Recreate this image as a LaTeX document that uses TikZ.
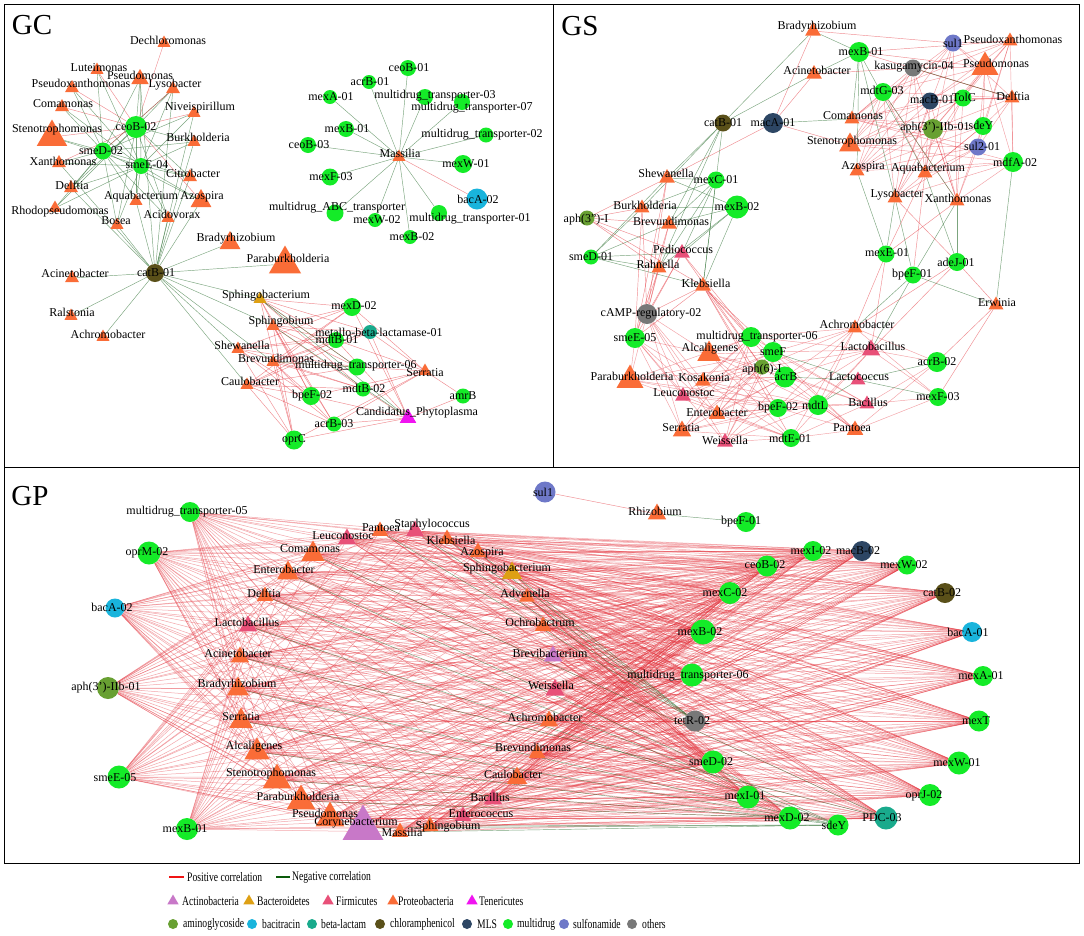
\documentclass[tikz,border=0pt]{standalone}
\usepackage{fontspec}
\setmainfont{Liberation Serif}
\usepackage{graphicx}
\usetikzlibrary{shapes.geometric}
\pgfdeclarelayer{bg}\pgfdeclarelayer{fg}\pgfsetlayers{bg,main,fg}
\definecolor{cPro}{RGB}{250,108,55}
\definecolor{cFir}{RGB}{232,80,120}
\definecolor{cAct}{RGB}{200,120,200}
\definecolor{cBac}{RGB}{222,160,20}
\definecolor{cTen}{RGB}{240,20,240}
\definecolor{cAmi}{RGB}{104,160,50}
\definecolor{cBcn}{RGB}{25,180,220}
\definecolor{cBeta}{RGB}{25,170,140}
\definecolor{cChl}{RGB}{90,80,25}
\definecolor{cMLS}{RGB}{45,70,100}
\definecolor{cMul}{RGB}{20,235,40}
\definecolor{cSul}{RGB}{110,120,200}
\definecolor{cOth}{RGB}{120,120,120}
\definecolor{ePos}{RGB}{228,45,55}
\definecolor{eNeg}{RGB}{35,105,40}
\definecolor{lPos}{RGB}{240,20,20}
\definecolor{lNeg}{RGB}{10,90,10}
\tikzset{
 lab/.style={font=\fontsize{12}{13}\selectfont, inner sep=0pt},
 ttl/.style={font=\fontsize{29}{30}\selectfont, inner sep=0pt},
 legt/.style={font=\fontsize{13}{14}\selectfont, inner sep=0pt, anchor=west},
 trib/.style={regular polygon, regular polygon sides=3, inner sep=0pt, minimum size=#1, draw=none},
 cirb/.style={circle, inner sep=0pt, minimum size=#1, draw=none},
 pro/.style={trib=#1, fill=cPro}, pro/.default=16,
 fir/.style={trib=#1, fill=cFir}, fir/.default=18,
 act/.style={trib=#1, fill=cAct}, act/.default=18,
 bac/.style={trib=#1, fill=cBac}, bac/.default=18,
 ten/.style={trib=#1, fill=cTen}, ten/.default=18,
 ami/.style={cirb=#1, fill=cAmi}, ami/.default=18,
 bcn/.style={cirb=#1, fill=cBcn}, bcn/.default=18,
 bet/.style={cirb=#1, fill=cBeta}, bet/.default=18,
 chl/.style={cirb=#1, fill=cChl}, chl/.default=18,
 mls/.style={cirb=#1, fill=cMLS}, mls/.default=18,
 mul/.style={cirb=#1, fill=cMul}, mul/.default=18,
 sul/.style={cirb=#1, fill=cSul}, sul/.default=18,
 oth/.style={cirb=#1, fill=cOth}, oth/.default=18,
 posE/.style={draw=ePos, line width=0.45pt, draw opacity=#1}, posE/.default=0.55,
 negE/.style={draw=eNeg, line width=0.45pt, draw opacity=#1}, negE/.default=0.6,
 gpE/.style={draw=ePos, line width=0.5pt, draw opacity=0.42},
}
\newcommand\gnode[5][0,0]{\node[#2] (#3) at (#4) {};\begin{pgfonlayer}{fg}\node[lab,shift={(#1)}] (#3-l) at (#4) {#5};\end{pgfonlayer}}
\newcommand\legtxt[1]{\scalebox{0.74}[1]{#1}}
\begin{document}
\begin{tikzpicture}[x=1pt,y=-1pt]
\useasboundingbox (0,0) rectangle (1084,935);
\begin{pgfonlayer}{bg}\fill[white] (0,0) rectangle (1084,935);\end{pgfonlayer}
\draw[line width=1pt] (4,4) rectangle (1079,863);
\draw[line width=1pt] (4,467) -- (1079,467);
\draw[line width=1pt] (553,4) -- (553,467);
\node[ttl] (tGC) at (32,25) {GC};
\node[ttl] (tGS) at (580,26) {GS};
\node[ttl] (tGP) at (30,496) {GP};
% ================= GC =================
\gnode[4,-3]{pro=15}{cDech}{164,43}{Dechloromonas}
\gnode[2,-2]{pro=15}{cLute}{97,70}{Luteimonas}
\gnode[0,-4]{pro=20}{cPseu}{140,79}{Pseudomonas}
\gnode[9,-5]{pro=16}{cPsxa}{72,88}{Pseudoxanthomonas}
\gnode[2,-4]{pro=16}{cLyso}{173,89}{Lysobacter}
\gnode[1,-3]{pro=16}{cComa}{62,107}{Comamonas}
\gnode[6,-5]{pro=15}{cNive}{194,113}{Niveispirillum}
\gnode[5,-7]{pro=35}{cSten}{52,137}{Stenotrophomonas}
\gnode{mul=22}{cceoB}{136,127}{ceoB-02}
\gnode[4,-5]{pro=15}{cBurk}{194,142}{Burkholderia}
\gnode[-2,0]{mul=17}{csmeD}{103,151}{smeD-02}
\gnode[4,-2]{pro=16}{cXant}{59,163}{Xanthomonas}
\gnode[6,-1]{mul=16}{csmeE}{141,166}{smeE-04}
\gnode[3,-4]{pro=16}{cCitr}{190,177}{Citrobacter}
\gnode[1,-3]{pro=16}{cDelf}{71,188}{Delftia}
\gnode[5,-4]{pro=15}{cAqua}{136,201}{Aquabacterium}
\gnode[1,-4]{pro=24}{cAzos}{201,201}{Azospira}
\gnode[5,4]{pro=15}{cRhod}{55,208}{Rhodopseudomonas}
\gnode[4,-4]{pro=15}{cAcid}{168,218}{Acidovorax}
\gnode[-1,-4]{pro=15}{cBose}{117,225}{Bosea}
\gnode[6,-4]{pro=24}{cBrad}{230,243}{Bradyrhizobium}
\gnode[1,0]{chl=18}{ccatB}{155,273}{catB-01}
\gnode[3,-5]{pro=16}{cAcin}{72,278}{Acinetobacter}
\gnode[3,-6]{pro=37}{cPara}{285,264}{Paraburkholderia}
\gnode[1,-4]{pro=15}{cRals}{71,316}{Ralstonia}
\gnode[5,-3]{pro=15}{cAchr}{103,337}{Achromobacter}
\gnode[6,-3]{bac=15}{cSphb}{260,299}{Sphingobacterium}
\gnode[8,-4]{pro=15}{cSphg}{273,326}{Sphingobium}
\gnode[4,-4]{pro=15}{cShew}{238,349}{Shewanella}
\gnode[3,-4]{pro=15}{cBrev}{273,362}{Brevundimonas}
\gnode[3,-4]{pro=15}{cCaul}{247,385}{Caulobacter}
\gnode[2,0]{mul=14}{cmexB2}{410,237}{mexB-02}
\gnode[2,-1]{mul=18}{cmexD}{352,307}{mexD-02}
\gnode[9,0]{bet=14}{cmetal}{370,332}{metallo-beta-lactamase-01}
\gnode[1,-1]{mul=16}{cmdtB1}{336,340}{mdtB-01}
\gnode[-1,-1]{mul=17}{cmdt06}{357,367}{multidrug\_transporter-06}
\gnode[0,2]{pro=15}{cSerr}{425,371}{Serratia}
\gnode[1,-1]{mul=15}{cmdtB2}{363,389}{mdtB-02}
\gnode[1,0]{mul=18}{cbpeF}{311,396}{bpeF-02}
\gnode{mul=15}{camrB}{463,396}{amrB}
\gnode[9,-5]{ten=19}{cCand}{408,418}{Candidatus\_Phytoplasma}
\gnode{mul=15}{cacrB3}{334,424}{acrB-03}
\gnode{mul=19}{coprC}{294,440}{oprC}
\gnode[1,-4]{pro=15}{cMass}{399,157}{Massilia}
\gnode[1,0]{mul=16}{cceoB1}{408,68}{ceoB-01}
\gnode[1,0]{mul=14}{cacrB1}{369,82}{acrB-01}
\gnode[1,0]{mul=14}{cmexA1}{330,97}{mexA-01}
\gnode[10,-1]{mul=16}{cmdt03}{425,97}{multidrug\_transporter-03}
\gnode[10,6]{mul=16}{cmdt07}{462,102}{multidrug\_transporter-07}
\gnode[1,0]{mul=16}{cmexB1}{346,129}{mexB-01}
\gnode[-4,0]{mul=15}{cmdt02}{486,135}{multidrug\_transporter-02}
\gnode[1,0]{mul=16}{cceoB3}{308,145}{ceoB-03}
\gnode[3,0]{mul=18}{cmexW1}{463,164}{mexW-01}
\gnode[1,0]{mul=17}{cmexF3}{330,177}{mexF-03}
\gnode[1,0]{bcn=21}{cbacA}{477,199}{bacA-02}
\gnode[2,-5]{mul=17}{cABC}{335,213}{multidrug\_ABC\_transporter}
\gnode[2,0]{mul=14}{cmexW2}{375,220}{mexW-02}
\gnode[31,6]{mul=16}{cmdt01}{439,213}{multidrug\_transporter-01}
% ================= GS =================
\gnode[4,-4]{pro=18}{sBrad}{813,31}{Bradyrhizobium}
\gnode[3,-4]{pro=18}{sAcin}{814,74}{Acinetobacter}
\gnode{chl=17}{scatB}{723,123}{catB-01}
\gnode{mls=20}{smacA}{773,123}{macA-01}
\gnode[2,-3]{pro=25}{sSten}{850,145}{Stenotrophomonas}
\gnode[-1,-5]{pro=18}{sShew}{667,178}{Shewanella}
\gnode{mul=17}{smexC1}{716,180}{mexC-01}
\gnode[3,-3]{pro=17}{sBurk}{642,208}{Burkholderia}
\gnode{mul=23}{smexB2}{737,207}{mexB-02}
\gnode[-1,2]{ami=15}{saph3I}{587,218}{aph(3'')-I}
\gnode[2,-3]{pro=18}{sBrev}{669,224}{Brevundimonas}
\gnode[1,-4]{fir=18}{sPedi}{682,253}{Pediococcus}
\gnode{mul=15}{ssmeD1}{591,257}{smeD-01}
\gnode[-1,-4]{pro=17}{sRahn}{659,268}{Rahnella}
\gnode[3,-3]{pro=18}{sKleb}{703,286}{Klebsiella}
\gnode[4,0]{oth=20}{scAMP}{647,314}{cAMP-regulatory-02}
\gnode{mul=20}{ssmeE5}{635,338}{smeE-05}
\gnode[6,0]{mul=20}{smdt06}{751,337}{multidrug\_transporter-06}
\gnode[1,-5]{pro=27}{sAlca}{709,354}{Alcaligenes}
\gnode{mul=20}{ssmeF}{773,352}{smeF}
\gnode[0,3]{ami=15}{saph6}{762,367}{aph(6)-I}
\gnode[1,0]{mul=21}{sacrB}{785,377}{acrB}
\gnode[2,-4]{pro=31}{sPara}{630,380}{Paraburkholderia}
\gnode[1,-4]{pro=18}{sKosa}{703,381}{Kosakonia}
\gnode[1,-3]{fir=18}{sLeuc}{683,396}{Leuconostoc}
\gnode[0,-2]{pro=19}{sEnte}{717,414}{Enterobacter}
\gnode{mul=18}{sbpeF2}{778,408}{bpeF-02}
\gnode[-3,0]{mul=20}{smdtL}{818,405}{mdtL}
\gnode[-1,-3]{pro=21}{sSerr}{682,431}{Serratia}
\gnode[0,-2]{fir=18}{sWeis}{725,442}{Weissella}
\gnode[-1,0]{mul=18}{smdtE}{791,438}{mdtE-01}
\gnode[2,0]{mul=20}{smexB1}{859,52}{mexB-01}
\gnode{sul=17}{ssul1}{953,43}{sul1}
\gnode[3,-2]{pro=17}{sPsxa}{1010,41}{Pseudoxanthomonas}
\gnode[1,-1]{oth=17}{skasu}{913,68}{kasugamycin-04}
\gnode[11,-4]{pro=31}{sPseu}{985,67}{Pseudomonas}
\gnode[-1,-2]{mul=18}{smdtG}{883,92}{mdtG-03}
\gnode[2,-1]{mls=17}{smacB1}{930,101}{macB-01}
\gnode[1,-1]{mul=17}{sTolC}{963,98}{TolC}
\gnode[1,-2]{pro=17}{sDelf}{1012,98}{Delftia}
\gnode[1,-3]{pro=17}{sComa}{852,119}{Comamonas}
\gnode[2,-1]{ami=20}{saph3}{933,129}{aph(3')-IIb-01}
\gnode[-2,-1]{mul=18}{ssdeY}{983,126}{sdeY}
\gnode[4,-1]{sul=17}{ssul2}{978,147}{sul2-01}
\gnode[6,-4]{pro=17}{sAzos}{857,171}{Azospira}
\gnode[3,-4]{pro=17}{sAqua}{925,173}{Aquabacterium}
\gnode[2,0]{mul=20}{smdfA}{1013,162}{mdfA-02}
\gnode[2,-3]{pro=17}{sLyso}{895,198}{Lysobacter}
\gnode[1,-3]{pro=17}{sXant}{957,201}{Xanthomonas}
\gnode[1,-1]{mul=17}{smexE1}{886,254}{mexE-01}
\gnode[-1,0]{mul=18}{sadeJ}{957,262}{adeJ-01}
\gnode[-1,0]{mul=17}{sbpeF1}{913,275}{bpeF-01}
\gnode[1,-2]{pro=17}{sErwi}{996,305}{Erwinia}
\gnode[2,-4]{pro=17}{sAchr}{855,328}{Achromobacter}
\gnode[2,-4]{fir=21}{sLact}{871,350}{Lactobacillus}
\gnode{mul=20}{sacrB2}{937,362}{acrB-02}
\gnode[1,-3]{fir=17}{sLacc}{858,380}{Lactococcus}
\gnode{mul=18}{smexF3}{938,397}{mexF-03}
\gnode[1,-2]{fir=17}{sBaci}{867,404}{Bacillus}
\gnode[-3,-2]{pro=19}{sPant}{855,430}{Pantoea}
% ================= GP =================
\gnode[-3,0]{mul=20}{pmdt05}{190,512}{multidrug\_transporter-05}
\gnode[-2,0]{mul=23}{poprM}{149,553}{oprM-02}
\gnode[-3,-1]{bcn=19}{pbacA2}{115,608}{bacA-02}
\gnode[-2,0]{ami=22}{paph3}{108,688}{aph(3')-IIb-01}
\gnode[-4,1]{mul=23}{psmeE5}{119,777}{smeE-05}
\gnode[-2,0]{mul=22}{pmexB1}{187,829}{mexB-01}
\gnode[-4,-3]{fir=21}{pLeuc}{347,539}{Leuconostoc}
\gnode[-3,-5]{pro=27}{pComa}{313,554}{Comamonas}
\gnode[-4,-4]{pro=25}{pEnte}{288,573}{Enterobacter}
\gnode[-1,-3]{pro=19}{pDelf}{265,596}{Delftia}
\gnode[-1,-4]{fir=21}{pLact}{248,626}{Lactobacillus}
\gnode[-2,-4]{pro=21}{pAcin}{240,657}{Acinetobacter}
\gnode[-1,-4]{pro=25}{pBrad}{238,689}{Bradyrhizobium}
\gnode[0,-4]{pro=27}{pSerr}{241,721}{Serratia}
\gnode[-3,-5]{pro=29}{pAlca}{257,752}{Alcaligenes}
\gnode[-6,-6]{pro=33}{pSten}{277,780}{Stenotrophomonas}
\gnode[-3,-5]{pro=33}{pPara}{301,801}{Paraburkholderia}
\gnode[-5,-5]{pro=33}{pPseu}{330,818}{Pseudomonas}
\gnode[-7,-5]{act=47}{pCory}{363,828}{Corynebacterium}
\gnode[2,0]{pro=19}{pMass}{400,832}{Massilia}
\gnode[18,1]{pro=19}{pSphg}{430,826}{Sphingobium}
\gnode[18,-2]{fir=19}{pEnco}{463,816}{Enterococcus}
\gnode[-3,-2]{fir=21}{pBaci}{493,799}{Bacillus}
\gnode[-4,-4]{pro=23}{pCaul}{517,778}{Caulobacter}
\gnode[-4,-6]{pro=19}{pBrev}{537,753}{Brevundimonas}
\gnode[-4,-4]{pro=21}{pAchr}{549,721}{Achromobacter}
\gnode[-4,-5]{fir=22}{pWeis}{555,690}{Weissella}
\gnode[-3,-3]{act=21}{pBrvb}{553,656}{Brevibacterium}
\gnode[-3,-4]{pro=19}{pOchr}{543,626}{Ochrobactrum}
\gnode[-2,-4]{pro=18}{pAdve}{527,597}{Advenella}
\gnode[-5,-4]{bac=23}{pSphb}{512,573}{Sphingobacterium}
\gnode[4,1]{pro=19}{pAzos}{478,552}{Azospira}
\gnode[4,1]{pro=19}{pKleb}{447,539}{Klebsiella}
\gnode[17,-6]{fir=21}{pStap}{415,531}{Staphylococcus}
\gnode[1,-3]{pro=19}{pPant}{380,531}{Pantoea}
\gnode[-2,0]{sul=21}{psul1}{545,492}{sul1}
\gnode[-2,-3]{pro=21}{pRhiz}{657,514}{Rhizobium}
\gnode[-5,0]{mul=20}{pbpeF1}{746,522}{bpeF-01}
\gnode[-2,0]{mul=20}{pmexI2}{813,551}{mexI-02}
\gnode[-4,0]{mls=20}{pmacB2}{862,551}{macB-02}
\gnode[-2,-1]{mul=21}{pceoB2}{767,566}{ceoB-02}
\gnode[-3,0]{mul=19}{pmexW2}{907,565}{mexW-02}
\gnode[-5,0]{mul=22}{pmexC2}{730,593}{mexC-02}
\gnode[-3,0]{chl=20}{pcatB2}{945,593}{catB-02}
\gnode[-3,0]{mul=25}{pmexB2}{703,632}{mexB-02}
\gnode[-4,0]{bcn=20}{pbacA1}{972,632}{bacA-01}
\gnode[-4,1]{mul=23}{pmdt06}{692,675}{multidrug\_transporter-06}
\gnode[-2,0]{mul=20}{pmexA1}{983,676}{mexA-01}
\gnode[-3,0]{oth=21}{ptetR}{695,721}{tetR-02}
\gnode[-3,0]{mul=21}{pmexT}{979,721}{mexT}
\gnode[-2,0]{mul=23}{psmeD2}{713,762}{smeD-02}
\gnode[-2,0]{mul=23}{pmexW1}{959,763}{mexW-01}
\gnode[-3,-1]{mul=23}{pmexI1}{748,797}{mexI-01}
\gnode[-6,1]{mul=22}{poprJ}{930,795}{oprJ-02}
\gnode[-3,0]{mul=23}{pmexD2}{790,818}{mexD-02}
\gnode[-4,0]{bet=23}{pPDC}{886,818}{PDC-03}
\gnode[-4,0]{mul=21}{psdeY}{838,825}{sdeY}
% ================= EDGES =================
\begin{pgfonlayer}{bg}
% GC top cluster
\foreach \t in {cDech,cPsxa,cComa,cNive,cSten,cXant,cAzos,cLute} \draw[posE] (cceoB) -- (\t);
\foreach \t in {cPseu,cLyso,cBurk,cCitr,cDelf,cAqua,cBose,cAcid,cRhod} \draw[negE] (cceoB) -- (\t);
\foreach \g in {csmeD,csmeE} \foreach \t in {cLute,cPseu,cPsxa,cLyso,cComa,cNive,cSten,cBurk,cXant,cCitr,cDelf,cAqua,cAzos,cRhod,cBose,cAcid} \draw[negE] (\g) -- (\t);
\draw[posE] (csmeD) -- (cLyso);
\foreach \t in {cPseu,cLyso,cNive,cBurk,cDelf,cAqua,cAzos,cBose,cAcid,cCitr,cXant,cAcin,cRals,cAchr,cBrad,cPara,cSphb,cSphg,cShew,cBrev,cCaul} \draw[negE] (ccatB) -- (\t);
% GC bottom cluster
\foreach \t in {cSphb,cSphg,cShew,cBrev,cCaul} \foreach \g in {cmexD,cmetal,cmdtB1,cmdt06,cmdtB2,cbpeF,cacrB3,coprC} \draw[posE] (\t) -- (\g);
\foreach \g in {cmexD,cmetal,cmdtB1,cmdt06,cmdtB2,cbpeF,cacrB3,coprC,camrB} \draw[posE] (cSerr) -- (\g);
\foreach \g in {cmexD,cmetal,cmdtB1,cmdtB2,cbpeF,cacrB3,coprC,camrB} \draw[posE] (cCand) -- (\g);
\draw[negE] (cSphb) -- (cCand); \draw[negE] (cSphb) -- (cmdt06); \draw[negE] (cBrev) -- (cmdt06); \draw[negE] (cSphg) -- (cCand);
% Massilia star
\foreach \g in {cceoB1,cacrB1,cmexA1,cmdt03,cmdt07,cmexB1,cmdt02,cceoB3,cmexW1,cmexF3,cABC,cmexW2,cmdt01,cmexB2} \draw[negE] (cMass) -- (\g);
\draw[posE] (cMass) -- (cbacA);
% GS top
\foreach \g in {ssul1,skasu,smdtG,smacB1,sTolC,saph3,ssdeY,ssul2,smdfA} \foreach \t in {sPsxa,sPseu,sDelf,sComa,sSten,sAzos,sAqua,sLyso,sXant} \draw[posE=0.45] (\g) -- (\t);
\foreach \t in {sBrad,sAcin,sComa,sLyso,sAqua,sAzos} \draw[negE] (smexB1) -- (\t);
\foreach \t in {sPsxa,sPseu,sDelf} \draw[posE] (smexB1) -- (\t);
\draw[posE] (sBrad) -- (ssul1); \draw[negE] (sBrad) -- (scatB); \draw[posE] (sBrad) -- (smacA);
\draw[negE] (sAcin) -- (scatB); \draw[posE] (sAcin) -- (smacA); \draw[posE] (sAcin) -- (skasu);
\draw[negE] (smacA) -- (sComa); \draw[posE] (smacA) -- (sShew); \draw[posE] (smacA) -- (sSten);
\draw[negE] (skasu) -- (sDelf); \draw[negE] (smdtG) -- (sXant);
\foreach \t in {sShew,sBurk,sBrev,sRahn,sKleb} \draw[negE] (scatB) -- (\t);
% GS left
\foreach \g in {smexC1,smexB2,ssmeD1} \foreach \t in {sShew,sBurk,sBrev,sRahn,sKleb,sPedi} \draw[negE] (\g) -- (\t);
\foreach \t in {sShew,sBurk,sBrev,sRahn,sKleb,sPedi} \draw[posE] (saph3I) -- (\t);
\foreach \g in {scAMP,ssmeE5} \foreach \t in {sShew,sBurk,sBrev,sRahn,sKleb,sPedi} \draw[posE] (\g) -- (\t);
% GS bottom
\foreach \g in {scAMP,ssmeE5,smdt06,ssmeF,saph6,sacrB,sbpeF2,smdtL,smdtE} \foreach \t in {sAlca,sPara,sKosa,sLeuc,sEnte,sSerr,sWeis} \draw[posE=0.45] (\g) -- (\t);
\foreach \g in {smdt06,ssmeF,saph6,sacrB,sbpeF2,smdtL,smdtE,sacrB2,smexF3} \foreach \t in {sAchr,sLact,sBaci,sPant} \draw[posE=0.45] (\g) -- (\t);
\foreach \g in {smdt06,ssmeF,saph6,sacrB,sbpeF2,smdtE} \draw[posE] (sKleb) -- (\g);
\draw[posE] (sPedi) -- (smdt06); \draw[posE] (sPedi) -- (saph6);
\foreach \g in {ssmeF,sacrB2,smexF3,sacrB,smdtL} \draw[negE] (sLacc) -- (\g);
% GS right
\foreach \t in {sLyso,sAzos} \draw[negE] (smexE1) -- (\t);
\foreach \t in {sXant,sAqua,sAchr,sLact} \draw[posE] (smexE1) -- (\t);
\foreach \t in {sLyso,sXant,sAchr,sLact} \draw[negE] (sbpeF1) -- (\t);
\draw[posE] (sbpeF1) -- (sAqua);
\foreach \t in {sXant,sAqua} \draw[negE] (sadeJ) -- (\t);
\foreach \t in {sLyso,sAchr,sLact} \draw[posE] (sadeJ) -- (\t);
\draw[posE] (sErwi) -- (sadeJ); \draw[negE] (sErwi) -- (sbpeF1); \draw[negE] (sErwi) -- (smdfA);
\draw[posE] (sErwi) -- (sacrB2); \draw[posE] (sErwi) -- (smexF3);
% GP
\def\PTaxa{pLeuc,pComa,pEnte,pDelf,pLact,pAcin,pBrad,pSerr,pAlca,pSten,pPara,pPseu,pCory,pMass,pSphg,pEnco,pBaci,pCaul,pBrev,pAchr,pWeis,pBrvb,pOchr,pAdve,pSphb,pAzos,pKleb,pStap,pPant}
\foreach \g in {pmdt05,poprM,pbacA2,paph3,psmeE5,pmexB1,pmexI2,pmacB2,pceoB2,pmexW2,pmexC2,pcatB2,pmexB2,pbacA1,pmdt06,pmexA1,pmexT,psmeD2,pmexW1,pmexI1,poprJ,pmexD2,pPDC} \foreach \t in \PTaxa \draw[gpE] (\g) -- (\t);
\foreach \t in {pEnte,pLact,pBrad,pAlca,pSerr,pDelf,pSphg,pMass,pCory} \draw[negE] (psdeY) -- (\t);
\foreach \t in {pPant,pStap,pKleb,pAzos,pSphb} \draw[negE] (ptetR) -- (\t);
\draw[negE] (pmexD2) -- (pSten); \draw[negE] (pmexD2) -- (pPara);
\draw[negE] (pPDC) -- (pComa); \draw[negE] (pPDC) -- (pAcin);
\draw[posE] (pRhiz) -- (psul1); \draw[negE] (pRhiz) -- (pbpeF1);
\end{pgfonlayer}
% ================= LEGEND =================
\coordinate (lgP1) at (169,877); \coordinate (lgP2) at (184,877);
\draw[draw=lPos, line width=1.6pt] (lgP1) -- (lgP2);
\node[legt] (lgPt) at (187,877) {\legtxt{Positive correlation}};
\coordinate (lgN1) at (276,877); \coordinate (lgN2) at (290,877);
\draw[draw=lNeg, line width=1.6pt] (lgN1) -- (lgN2);
\node[legt] (lgNt) at (292,877) {\legtxt{Negative correlation}};
\node[act=13] (lgAct) at (173,901) {}; \node[legt] (lgActT) at (182,901) {\legtxt{Actinobacteria}};
\node[bac=13] (lgBac) at (249,901) {}; \node[legt] (lgBacT) at (257,901) {\legtxt{Bacteroidetes}};
\node[fir=13] (lgFir) at (328,901) {}; \node[legt] (lgFirT) at (336,901) {\legtxt{Firmicutes}};
\node[pro=13] (lgPro) at (393,901) {}; \node[legt] (lgProT) at (398,901) {\legtxt{Proteobacteria}};
\node[ten=13] (lgTen) at (472,901) {}; \node[legt] (lgTenT) at (479,901) {\legtxt{Tenericutes}};
\node[ami=10] (lgAmi) at (173,924) {}; \node[legt] (lgAmiT) at (183,924) {\legtxt{aminoglycoside}};
\node[bcn=10] (lgBcn) at (252,924) {}; \node[legt] (lgBcnT) at (262,924) {\legtxt{bacitracin}};
\node[bet=10] (lgBet) at (312,924) {}; \node[legt] (lgBetT) at (321,924) {\legtxt{beta-lactam}};
\node[chl=10] (lgChl) at (380,924) {}; \node[legt] (lgChlT) at (390,924) {\legtxt{chloramphenicol}};
\node[mls=10] (lgMLS) at (467,924) {}; \node[legt] (lgMLST) at (477,924) {\legtxt{MLS}};
\node[mul=10] (lgMul) at (508,924) {}; \node[legt] (lgMulT) at (517,924) {\legtxt{multidrug}};
\node[sul=10] (lgSul) at (564,924) {}; \node[legt] (lgSulT) at (573,924) {\legtxt{sulfonamide}};
\node[oth=10] (lgOth) at (632,924) {}; \node[legt] (lgOthT) at (642,924) {\legtxt{others}};
\end{tikzpicture}
\end{document}
